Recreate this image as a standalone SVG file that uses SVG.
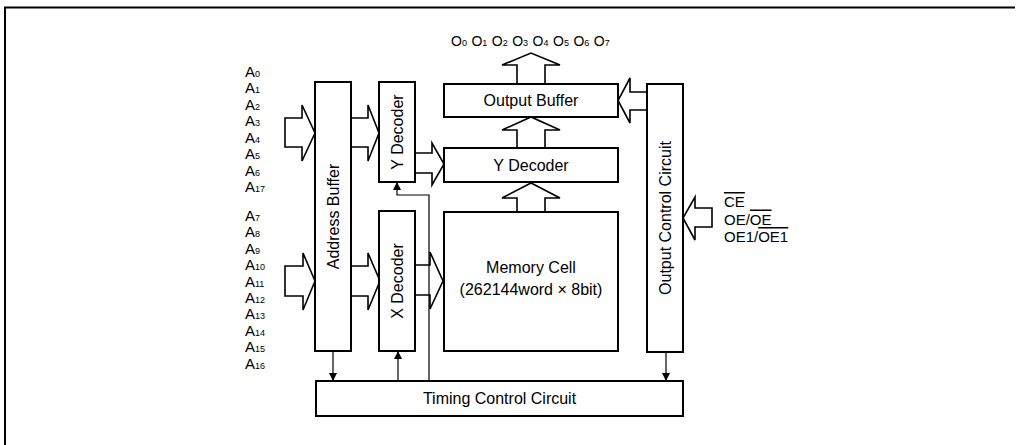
<svg xmlns="http://www.w3.org/2000/svg" width="1016" height="445" viewBox="0 0 1016 445">
<style>
.box{fill:#fff;stroke:#000;stroke-width:2}
.blk{fill:#fff;stroke:#000;stroke-width:1.6;stroke-linejoin:miter}
.ln{fill:none;stroke:#000;stroke-width:1.2}
.t{font-family:"Liberation Sans",Arial,sans-serif;fill:#000}
.lbl{font-size:16px;text-anchor:middle}
.al{font-size:15px}
.sub{font-size:9px}
.frame{fill:none;stroke:#000;stroke-width:2}
</style>
<defs>
<marker id="ah" markerWidth="8" markerHeight="10" refX="7" refY="5" orient="auto" markerUnits="userSpaceOnUse">
<path d="M0,1 L8,5 L0,9 Z" fill="#000"/>
</marker>
</defs>
<rect width="1016" height="445" fill="#fff"/>
<path class="frame" d="M5,445 V7.5 H1015"/>

<g id="connectors">
<polygon class="blk" points="285,118 302,118 302,105 315,133 302,161 302,147 285,147"/>
<polygon class="blk" points="285,266 303,266 303,253 315,281 303,310 303,296 285,296"/>
<polygon class="blk" points="351,118 368,118 368,105 379,133 368,161 368,147 351,147"/>
<polygon class="blk" points="351,266 368,266 368,253 380,281 368,310 368,296 351,296"/>
<polygon class="blk" points="415,265 430,265 430,252 443,281 430,309 430,295 415,295"/>
<polygon class="blk" points="415,153 432,153 432,143 444,164 432,185 432,173 415,173"/>
<polygon class="blk" points="517,212 517,198 502,198 531,183 560,198 545,198 545,212"/>
<polygon class="blk" points="517,148 517,130 502,130 531,117 560,130 545,130 545,148"/>
<polygon class="blk" points="517,84 517,65 502,65 531,53 560,65 545,65 545,84"/>
<polygon class="blk" points="647,92 630,92 630,78 618,100.5 630,123 630,110 647,110"/>
<polygon class="blk" points="712,208 695,208 695,197 683,218 695,240 695,227 712,227"/>
<line class="ln" x1="333" y1="351" x2="333" y2="380" marker-end="url(#ah)"/>
<line class="ln" x1="398" y1="381" x2="398" y2="352" marker-end="url(#ah)"/>
<line class="ln" x1="666" y1="352" x2="666" y2="380" marker-end="url(#ah)"/>
<polyline class="ln" points="429,381 429,195 397,195 397,183" marker-end="url(#ah)"/>
</g>

<g id="address-buffer">
<rect class="box" x="315" y="82" width="36" height="269"/>
<text class="t lbl" transform="translate(339,216.5) rotate(-90)">Address Buffer</text>
</g>
<g id="y-decoder-v">
<rect class="box" x="379" y="82" width="36" height="100"/>
<text class="t lbl" transform="translate(403,132) rotate(-90)">Y Decoder</text>
</g>
<g id="x-decoder">
<rect class="box" x="379" y="211" width="36" height="140"/>
<text class="t lbl" transform="translate(403,281) rotate(-90)">X Decoder</text>
</g>
<g id="output-buffer">
<rect class="box" x="444" y="84" width="174" height="33"/>
<text class="t lbl" x="531" y="106">Output Buffer</text>
</g>
<g id="y-decoder-h">
<rect class="box" x="444" y="148" width="174" height="34"/>
<text class="t lbl" x="531" y="171">Y Decoder</text>
</g>
<g id="memory-cell">
<rect class="box" x="444" y="212" width="174" height="139"/>
<text class="t lbl" x="531" y="273">Memory Cell</text>
<text class="t lbl" x="531" y="295">(262144word × 8bit)</text>
</g>
<g id="output-control">
<rect class="box" x="647" y="84" width="36" height="268"/>
<text class="t lbl" transform="translate(671,218) rotate(-90)">Output Control Circuit</text>
</g>
<g id="timing-control">
<rect class="box" x="316" y="381" width="367" height="35"/>
<text class="t lbl" x="499.5" y="404">Timing Control Circuit</text>
</g>

<g id="address-labels" class="t al">
<text x="245" y="77">A<tspan class="sub">0</tspan></text>
<text x="245" y="93.4">A<tspan class="sub">1</tspan></text>
<text x="245" y="109.9">A<tspan class="sub">2</tspan></text>
<text x="245" y="126.3">A<tspan class="sub">3</tspan></text>
<text x="245" y="142.7">A<tspan class="sub">4</tspan></text>
<text x="245" y="159.2">A<tspan class="sub">5</tspan></text>
<text x="245" y="175.6">A<tspan class="sub">6</tspan></text>
<text x="245" y="192">A<tspan class="sub">17</tspan></text>
<text x="245" y="221">A<tspan class="sub">7</tspan></text>
<text x="245" y="237.4">A<tspan class="sub">8</tspan></text>
<text x="245" y="253.8">A<tspan class="sub">9</tspan></text>
<text x="245" y="270.2">A<tspan class="sub">10</tspan></text>
<text x="245" y="286.6">A<tspan class="sub">11</tspan></text>
<text x="245" y="303">A<tspan class="sub">12</tspan></text>
<text x="245" y="319.4">A<tspan class="sub">13</tspan></text>
<text x="245" y="335.8">A<tspan class="sub">14</tspan></text>
<text x="245" y="352.2">A<tspan class="sub">15</tspan></text>
<text x="245" y="368.6">A<tspan class="sub">16</tspan></text>
</g>

<g id="output-labels" class="t" font-size="14">
<text x="451" y="46">O<tspan class="sub">0</tspan></text>
<text x="471.4" y="46">O<tspan class="sub">1</tspan></text>
<text x="491.8" y="46">O<tspan class="sub">2</tspan></text>
<text x="512.2" y="46">O<tspan class="sub">3</tspan></text>
<text x="532.6" y="46">O<tspan class="sub">4</tspan></text>
<text x="553" y="46">O<tspan class="sub">5</tspan></text>
<text x="573.4" y="46">O<tspan class="sub">6</tspan></text>
<text x="593.8" y="46">O<tspan class="sub">7</tspan></text>
</g>

<g id="control-labels" class="t" font-size="15">
<text x="724" y="207"><tspan text-decoration="overline">CE</tspan></text>
<text x="724" y="224.5">OE/<tspan text-decoration="overline">OE</tspan></text>
<text x="724" y="242">OE1/<tspan text-decoration="overline">OE1</tspan></text>
</g>
</svg>
